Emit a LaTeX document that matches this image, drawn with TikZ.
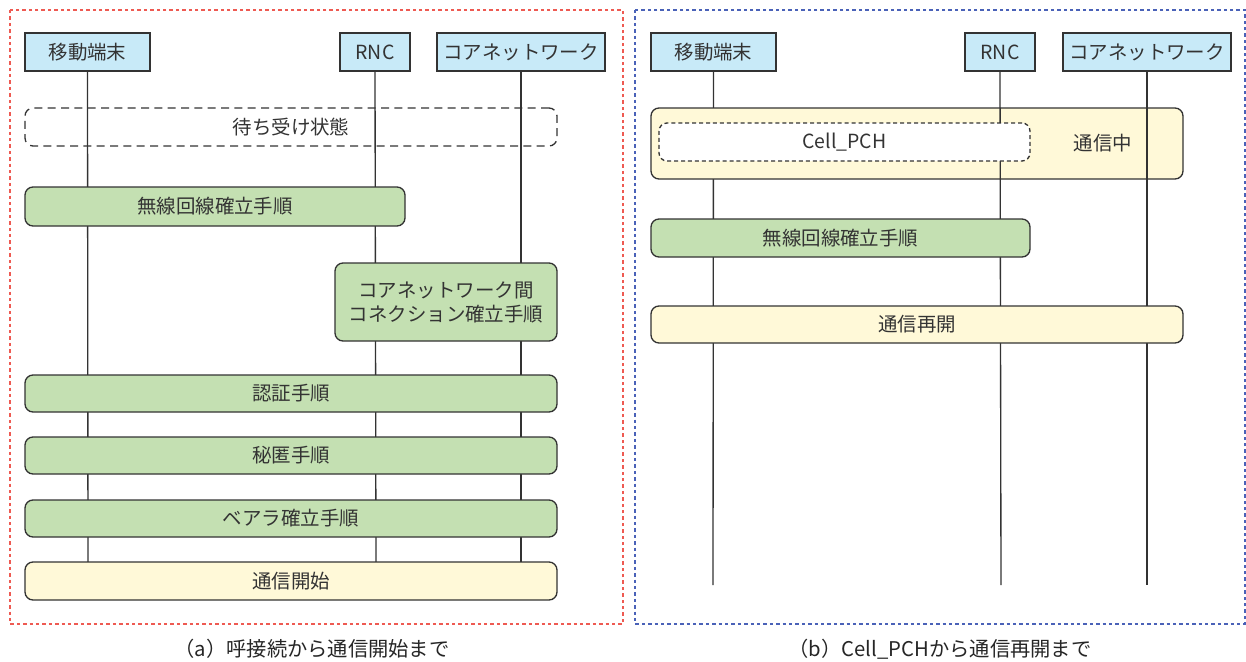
\documentclass[tikz,border=0pt]{standalone}
\usepackage{fontspec}
\setmainfont{Noto Sans CJK JP}
\begin{document}
\begin{tikzpicture}[x=0.75pt,y=-0.75pt,
  every node/.style={inner sep=0pt,outer sep=0pt,font=\fontsize{14.6pt}{18pt}\selectfont,text=black!80},
  hdr/.style={draw=black!80,line width=1pt,fill=hdrblue},
  grn/.style={draw=black!80,line width=1pt,fill=procgreen,rounded corners=6pt,align=center},
  ylw/.style={draw=black!80,line width=1pt,fill=stateyellow,rounded corners=6pt},
  waitbox/.style={draw=black!80,line width=1pt,rounded corners=6pt,dash pattern=on 6pt off 4pt},
  cellbox/.style={draw=black!80,line width=1pt,fill=white,rounded corners=6pt,dash pattern=on 3pt off 2.2pt},
  life/.style={draw=black!80,line width=1pt},
  frameA/.style={draw=framered,line width=0.9pt,dash pattern=on 2.6pt off 2.2pt},
  frameB/.style={draw=frameblue,line width=0.9pt,dash pattern=on 2.6pt off 2.2pt},
  captxt/.style={font=\fontsize{15.2pt}{18pt}\selectfont,text=black!85}]
\definecolor{hdrblue}{HTML}{C8EAF8}
\definecolor{procgreen}{HTML}{C4E0B2}
\definecolor{stateyellow}{HTML}{FFF9D8}
\definecolor{framered}{HTML}{EE5A52}
\definecolor{frameblue}{HTML}{4A62B8}
\newcommand\bxnode[7]{\node[#1,minimum width={(#4-#3)*0.75pt},minimum height={(#6-#5)*0.75pt}] (#2) at ({(#3+#4)/2},{(#5+#6)/2}) {#7};}
\useasboundingbox (0,0) rectangle (1246,661);
% frames
\draw[frameA] (10,10) rectangle (623,624);
\draw[frameB] (635,10) rectangle (1245,624);
% ---------- panel (a)
\bxnode{hdr}{aMS}{25}{150}{33}{71}{移動端末}
\bxnode{hdr}{aRNC}{340}{410}{33}{71}{RNC}
\bxnode{hdr}{aCN}{437}{605}{33}{71}{コアネットワーク}
\coordinate (aMSe) at (88,575);
\coordinate (aRNCe) at (376,575);
\coordinate (aCNe) at (521,575);
\draw[life] (aMS.south) -- (aMSe);
\draw[life] (aRNC.south) -- (aRNCe);
\draw[life] (aCN.south) -- (aCNe);
\bxnode{waitbox}{aWait}{25}{557}{108}{146}{待ち受け状態}
\bxnode{grn}{aRadio}{25}{405}{187}{226}{無線回線確立手順}
\bxnode{grn}{aCore}{335}{557}{263}{341}{コアネットワーク間\\コネクション確立手順}
\bxnode{grn}{aAuth}{25}{557}{375}{412}{認証手順}
\bxnode{grn}{aCiph}{25}{557}{437}{474}{秘匿手順}
\bxnode{grn}{aBear}{25}{557}{500}{537}{ベアラ確立手順}
\bxnode{ylw}{aStart}{25}{557}{562}{600}{通信開始}
\node[captxt] (capA) at (312,649) {（a）呼接続から通信開始まで};
% ---------- panel (b)
\bxnode{hdr}{bMS}{651}{776}{33}{71}{移動端末}
\bxnode{hdr}{bRNC}{965}{1035}{33}{71}{RNC}
\bxnode{hdr}{bCN}{1063}{1231}{33}{71}{コアネットワーク}
\coordinate (bMSe) at (713,585);
\coordinate (bRNCe) at (1001,585);
\coordinate (bCNe) at (1147,585);
\draw[life] (bMS.south) -- (bMSe);
\bxnode{ylw}{bTalk}{651}{1183}{108}{179}{}
\draw[life] (bRNC.south) -- (bRNCe);
\draw[life] (bCN.south) -- (bCNe);
\bxnode{cellbox}{bCell}{659}{1030}{123}{161}{Cell\_PCH}
\node (bTalkTxt) at (1103,143) {通信中};
\bxnode{grn}{bRadio}{651}{1030}{219}{257}{無線回線確立手順}
\bxnode{ylw}{bResume}{651}{1183}{306}{343}{通信再開}
\node[captxt] (capB) at (940,649) {（b）Cell\_PCHから通信再開まで};
\end{tikzpicture}
\end{document}
